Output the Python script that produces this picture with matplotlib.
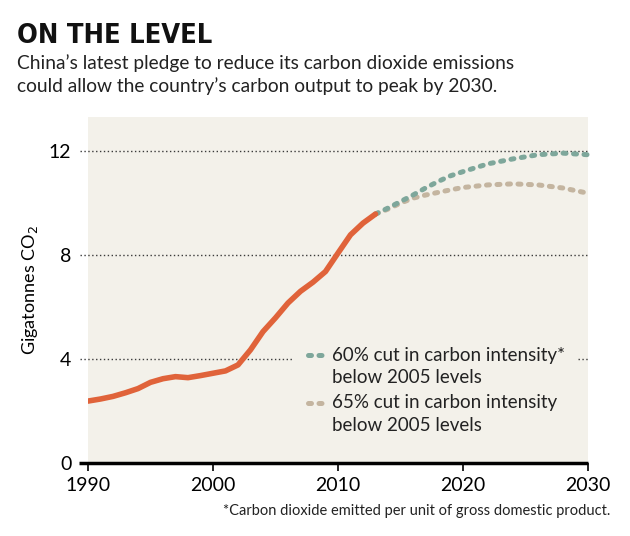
import matplotlib.pyplot as plt
import matplotlib.transforms as mtransforms

# historical emissions, gigatonnes CO2
hist_years = [1990, 1991, 1992, 1993, 1994, 1995, 1996, 1997, 1998, 1999, 2000,
              2001, 2002, 2003, 2004, 2005, 2006, 2007, 2008, 2009, 2010, 2011, 2012, 2013]
hist_vals = [2.38, 2.46, 2.56, 2.7, 2.86, 3.1, 3.24, 3.32, 3.28, 3.36, 3.45,
             3.54, 3.77, 4.35, 5.05, 5.58, 6.15, 6.6, 6.95, 7.36, 8.07, 8.77, 9.22, 9.57]

proj_years = [2013, 2014, 2015, 2016, 2017, 2018, 2019, 2020, 2022, 2024, 2026, 2028, 2030]
cut60_vals = [9.57, 9.8, 10.05, 10.3, 10.57, 10.82, 11.04, 11.2, 11.5, 11.69, 11.85, 11.91, 11.85]
cut65_vals = [9.57, 9.76, 9.99, 10.18, 10.3, 10.4, 10.5, 10.59, 10.69, 10.73, 10.69, 10.57, 10.37]

x_ticks = [1990, 2000, 2010, 2020, 2030]
y_ticks = [0, 4, 8, 12]

legend_lines = [['60% cut in carbon intensity*', 'below 2005 levels'],
                ['65% cut in carbon intensity', 'below 2005 levels']]

orange = '#e0633a'
green = '#7ea79b'
tan = '#c4b5a0'
bg = '#f3f1ea'

plt.rcParams['font.family'] = ['Lato', 'DejaVu Sans']

fig = plt.figure(figsize=(6.3, 5.36), dpi=100)
ax = fig.add_axes([88 / 630, (536 - 463) / 536, 500 / 630, 346 / 536])
ax.set_facecolor(bg)
ax.set_xlim(1990, 2030)
ax.set_ylim(0, 13.3)
for s in ax.spines.values():
    s.set_visible(False)

trans = mtransforms.blended_transform_factory(ax.transAxes, ax.transData)
grid_style = dict(transform=trans, color='#3a3a3a', lw=1.0, ls=(0, (1, 1.8)),
                  clip_on=False, zorder=1)
for y in [8, 12]:
    ax.plot([-0.016, 1.0], [y, y], **grid_style)
ax.plot([-0.016, 0.41], [4, 4], **grid_style)
ax.plot([0.98, 1.0], [4, 4], **grid_style)
# baseline
ax.plot([-0.018, 1.0], [0, 0], transform=trans, color='black', lw=2.5,
        clip_on=False, zorder=3, solid_capstyle='butt')

dots = dict(lw=3.6, ls=(0, (0.6, 1.5)), dash_capstyle='round', zorder=4)
ax.plot(proj_years, cut65_vals, color=tan, clip_on=False, **dots)
ax.plot(proj_years, cut60_vals, color=green, clip_on=False, **dots)
ax.plot(hist_years, hist_vals, color=orange, lw=4, solid_capstyle='round',
        solid_joinstyle='round', zorder=5)

ax.set_xticks(x_ticks)
ax.set_xticklabels([str(t) for t in x_ticks], fontsize=14)
ax.set_yticks(y_ticks)
ax.set_yticklabels([str(t) for t in y_ticks], fontsize=14)
ax.tick_params(axis='x', length=6, width=1.2, color='black', pad=4, direction='out')
ax.tick_params(axis='y', length=0, pad=12)
ax.set_ylabel('Gigatonnes CO$_2$', fontsize=13, labelpad=6)

# legend
for (line1, line2), col, y0 in zip(legend_lines, [green, tan], [4.15, 2.31]):
    ax.plot([2007.6, 2008.8], [y0, y0], color=col, **dots)
    ax.text(2009.5, y0, line1, fontsize=13.5, va='center', ha='left', color='#222222')
    ax.text(2009.5, y0 - 0.85, line2, fontsize=13.5, va='center', ha='left', color='#222222')

fig.text(17 / 630, 1 - 43 / 536, 'ON THE LEVEL', fontsize=19.5, fontweight='bold',
         family='DejaVu Sans', fontstretch='condensed', color='#111111')
fig.text(17 / 630, 1 - 69 / 536, 'China\u2019s latest pledge to reduce its carbon dioxide emissions',
         fontsize=13.8, color='#222222')
fig.text(17 / 630, 1 - 92 / 536, 'could allow the country\u2019s carbon output to peak by 2030.',
         fontsize=13.8, color='#222222')
fig.text(610 / 630, 1 - 515 / 536, '*Carbon dioxide emitted per unit of gross domestic product.',
         fontsize=10.5, color='#222222', ha='right')

fig.savefig('out.png', dpi=100)
